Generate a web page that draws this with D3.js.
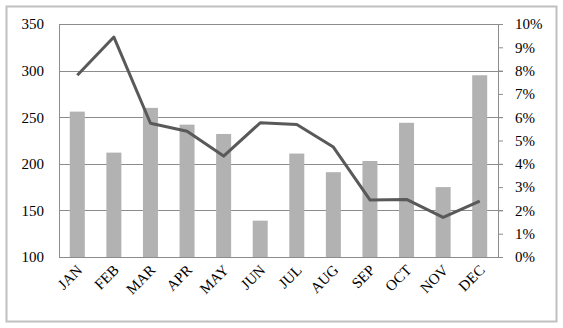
<!DOCTYPE html>
<html>
<head>
<meta charset="utf-8">
<script src="https://cdn.jsdelivr.net/npm/d3@7"></script>
<style>
  body { margin: 0; background: #fff; }
  svg text { font-family: "Liberation Serif", serif; font-size: 15px; fill: #000; }
</style>
</head>
<body>
<div id="plot"></div>
<script>
let months = ['JAN','FEB','MAR','APR','MAY','JUN','JUL','AUG','SEP','OCT','NOV','DEC'];
let barValues = [256, 212, 260, 242, 232, 139, 211, 191, 203, 244, 175, 295];
let lineValues = [0.078, 0.0944, 0.0574, 0.054, 0.0433, 0.0576, 0.0569, 0.0472, 0.0245, 0.0247, 0.017, 0.024];
let leftTicks = [100, 150, 200, 250, 300, 350];
let rightTicks = [0, 0.01, 0.02, 0.03, 0.04, 0.05, 0.06, 0.07, 0.08, 0.09, 0.1];

let svgWidth = 563;
let svgHeight = 328;
let margin = { top: 24, right: 65, bottom: 71, left: 59 };
let width = svgWidth - margin.left - margin.right;
let height = svgHeight - margin.top - margin.bottom;

let svg = d3.select('#plot')
            .append('svg')
            .attr('width', svgWidth)
            .attr('height', svgHeight);

// outer frame
svg.append('rect')
    .attr('x', 6.5).attr('y', 6.5)
    .attr('width', 550).attr('height', 315)
    .attr('fill', 'none')
    .attr('stroke', '#c0c0c0')
    .attr('stroke-width', 2);

let chart = svg.append('g')
                .attr('transform', `translate(${margin.left},${margin.top})`);

let x = d3.scaleBand()
            .domain(months)
            .range([0, width])
            .paddingInner(0.59)
            .paddingOuter(0.295);

let xc = d3.scaleBand().domain(months).range([0, width]);

let yLeft = d3.scaleLinear().domain([100, 350]).range([height, 0]);
let yRight = d3.scaleLinear().domain([0, 0.1]).range([height, 0]);

// gridlines
chart.append('g')
    .selectAll('line')
    .data(leftTicks)
    .join('line')
        .attr('x1', 0)
        .attr('x2', width + 5)
        .attr('y1', d => Math.round(yLeft(d)) + 0.5)
        .attr('y2', d => Math.round(yLeft(d)) + 0.5)
        .attr('stroke', '#8c8c8c');

// bars
chart.append('g')
    .selectAll('rect')
    .data(barValues)
    .join('rect')
        .attr('x', (d, i) => x(months[i]))
        .attr('y', d => yLeft(d))
        .attr('width', x.bandwidth())
        .attr('height', d => height - yLeft(d))
        .attr('fill', '#b2b2b2');

// left axis
let leftAxis = d3.axisLeft(yLeft).tickValues(leftTicks).tickSize(0).tickPadding(15);
let gl = chart.append('g').call(leftAxis);
gl.select('.domain').attr('stroke', '#8c8c8c');

// right axis
let rightAxis = d3.axisRight(yRight).tickValues(rightTicks).tickSize(5).tickPadding(12)
                    .tickFormat(d3.format('.0%'));
let gr = chart.append('g').attr('transform', `translate(${width},0)`).call(rightAxis);
gr.select('.domain').attr('stroke', '#8c8c8c').attr('d', `M0.5,0V${height}`);
gr.selectAll('line').attr('stroke', '#8c8c8c');

// bottom axis line
chart.append('line')
    .attr('x1', 0).attr('x2', width)
    .attr('y1', height + 0.5).attr('y2', height + 0.5)
    .attr('stroke', '#8c8c8c');

// rotated month labels
chart.append('g')
    .selectAll('text')
    .data(months)
    .join('text')
        .attr('text-anchor', 'end')
        .style('transform', d => `translate(${xc(d) + xc.bandwidth() / 2 + 6}px,${height + 14}px) rotate(-45deg)`)
        .text(d => d);

// line
let line = d3.line()
                .x((d, i) => xc(months[i]) + xc.bandwidth() / 2)
                .y(d => yRight(d));

chart.append('path')
    .datum(lineValues)
    .attr('d', line)
    .attr('fill', 'none')
    .attr('stroke', '#595959')
    .attr('stroke-width', 3)
    .attr('stroke-linejoin', 'round');
</script>
</body>
</html>
